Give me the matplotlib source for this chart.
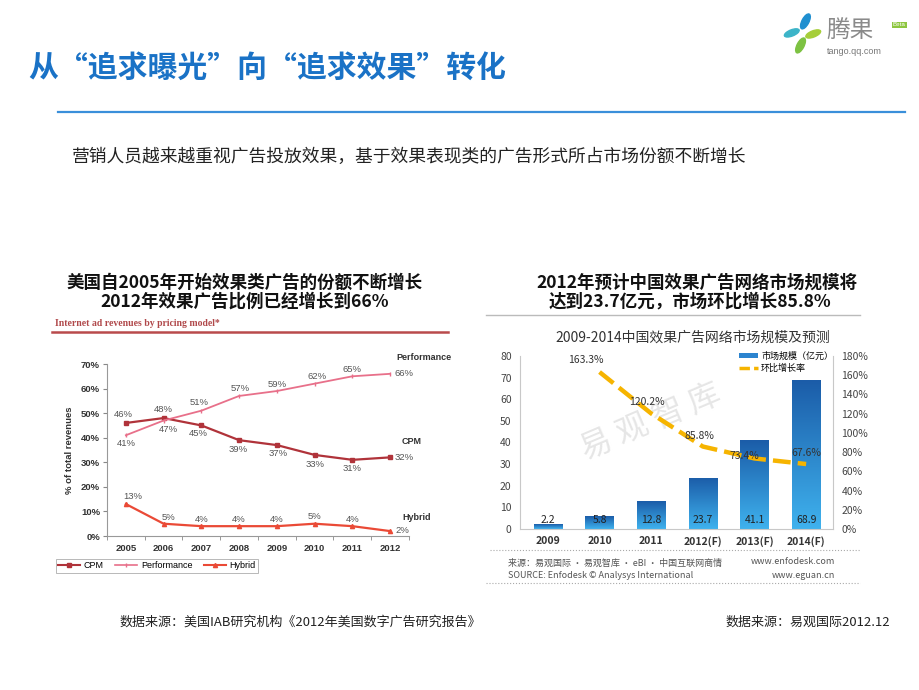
import matplotlib
matplotlib.use("Agg")
import matplotlib.pyplot as plt
import numpy as np
from matplotlib.lines import Line2D
from matplotlib.patches import Patch, Ellipse
from matplotlib.colors import LinearSegmentedColormap

plt.rcParams['font.family'] = ['Noto Sans CJK SC', 'DejaVu Sans']

# --- left chart: IAB internet ad revenues by pricing model (% of total) ---
years = ['2005', '2006', '2007', '2008', '2009', '2010', '2011', '2012']
cpm = [46, 48, 45, 39, 37, 33, 31, 32]
performance = [41, 47, 51, 57, 59, 62, 65, 66]
hybrid = [13, 5, 4, 4, 4, 5, 4, 2]

# --- right chart: China performance ad network market (100M RMB) ---
cn_years = ['2009', '2010', '2011', '2012(F)', '2013(F)', '2014(F)']
market_size = [2.2, 5.8, 12.8, 23.7, 41.1, 68.9]
growth_rate = [163.3, 120.2, 85.8, 73.4, 67.6]   # 2010 .. 2014(F)

W, H = 920, 690
LATIN = ['Liberation Sans', 'DejaVu Sans']


def fx(x):
    return x / W


def fy(y):
    return 1 - y / H


def box(l, t, r, b):
    return [fx(l), fy(b), (r - l) / W, (b - t) / H]


def hline(x0, x1, y, **kw):
    fig.add_artist(Line2D([fx(x0), fx(x1)], [fy(y), fy(y)], **kw))


fig = plt.figure(figsize=(9.2, 6.9), dpi=100)

# header
fig.text(fx(28), fy(68), '从“追求曝光”向“追求效果”转化', fontsize=21.5,
         weight='bold', color='#1A72C6', va='center')
hline(58, 905, 112, color='#3A8FDA', lw=1.6)

# logo
lax = fig.add_axes(box(783, 12, 822, 58))
lax.set_xlim(-1, 1)
lax.set_ylim(-1.2, 1)
lax.axis('off')
for (cx, cy, w, h, ang, c) in [(0.15, 0.55, 0.35, 0.8, -30, '#1F8FD0'),
                               (-0.55, 0.0, 0.8, 0.3, 20, '#3CB4C8'),
                               (0.55, -0.05, 0.8, 0.3, 20, '#A6CE39'),
                               (-0.1, -0.6, 0.35, 0.8, -30, '#7DC242')]:
    lax.add_patch(Ellipse((cx, cy), w, h, angle=ang, color=c))
fig.text(fx(826), fy(31), '腾果', fontsize=17, color='#8A8A8A', va='center')
fig.text(fx(827), fy(52), 'tango.qq.com', fontsize=6.5, color='#777777',
         va='center', family=LATIN)
fig.text(fx(893), fy(25), 'Beta', fontsize=4.5, color='white', va='center',
         family=LATIN, bbox=dict(boxstyle='square,pad=0.15', fc='#8DC63F', ec='none'))

fig.text(fx(72), fy(157), '营销人员越来越重视广告投放效果，基于效果表现类的广告形式所占市场份额不断增长',
         fontsize=12.8, color='#222222', va='center')

# chart headings
heading = dict(fontsize=12.6, weight='bold', color='#111111', ha='center', va='center')
fig.text(fx(245), fy(283), '美国自2005年开始效果类广告的份额不断增长', **heading)
fig.text(fx(245), fy(302), '2012年效果广告比例已经增长到66%', **heading)
fig.text(fx(697), fy(283), '2012年预计中国效果广告网络市场规模将', **heading)
fig.text(fx(690), fy(302), '达到23.7亿元，市场环比增长85.8%', **heading)

# ---------------- left chart ----------------
fig.text(fx(55), fy(323), 'Internet ad revenues by pricing model*', fontsize=7,
         weight='bold', color='#B0484A', va='center',
         family=['Liberation Serif', 'DejaVu Serif'])
hline(52, 448, 332, color='#B94A4C', lw=1.8)

ax1 = fig.add_axes(box(107, 364, 409, 536))
x = np.arange(len(years))
c_cpm, c_perf, c_hyb = '#B0333A', '#E8708A', '#EA4A36'
ax1.plot(x, cpm, color=c_cpm, lw=1.6, marker='s', ms=3.5)
ax1.plot(x, performance, color=c_perf, lw=1.3, marker='|', ms=3)
ax1.plot(x, hybrid, color=c_hyb, lw=1.6, marker='^', ms=3)
ax1.set_xlim(-0.5, len(years) - 0.5)
ax1.set_ylim(0, 70)
ax1.set_yticks(range(0, 71, 10))
ax1.set_yticklabels([f'{v}%' for v in range(0, 71, 10)], family=LATIN,
                    fontsize=6.8, weight='bold', color='#333333')
ax1.set_xticks(x)
ax1.set_xticklabels(years, family=LATIN, fontsize=6.8, weight='bold', color='#333333')
ax1.set_xticks(np.arange(-0.5, len(years)), minor=True)
ax1.tick_params(axis='x', which='major', length=0, pad=6)
ax1.tick_params(axis='x', which='minor', length=3, color='#888888')
ax1.tick_params(axis='y', length=3, color='#888888', pad=2)
for s in ['top', 'right']:
    ax1.spines[s].set_visible(False)
for s in ['left', 'bottom']:
    ax1.spines[s].set_color('#999999')
    ax1.spines[s].set_linewidth(0.8)
ax1.set_ylabel('% of total revenues', family=LATIN, fontsize=6.8, weight='bold',
               color='#333333', labelpad=5)

cpm_off = [(-3, 8), (0, 9), (-3, -8), (-1, -9), (1, -8), (0, -10), (0, -9), (14, 0)]
perf_off = [(0, -8), (5, -9), (-2, 8), (1, 7), (0, 7), (2, 7), (0, 7), (14, 0)]
hyb_off = [(7, 8), (5, 6), (0, 7), (0, 7), (0, 7), (0, 7), (0, 7), (12, 1)]
for series, offs in [(cpm, cpm_off), (performance, perf_off), (hybrid, hyb_off)]:
    for i, v in enumerate(series):
        ax1.annotate(f'{v}%', (x[i], v), xytext=offs[i], textcoords='offset pixels',
                     ha='center', va='center', fontsize=6.8, color='#555555',
                     family=LATIN, annotation_clip=False)

for label, xx, yy in [('Performance', 396, 358), ('CPM', 402, 442), ('Hybrid', 402, 517)]:
    fig.text(fx(xx), fy(yy), label, fontsize=6.5, weight='bold', color='#333333',
             va='center', family=LATIN)

handles = [Line2D([], [], color=c_cpm, lw=1.5, marker='s', ms=3),
           Line2D([], [], color=c_perf, lw=1.2, marker='|', ms=3),
           Line2D([], [], color=c_hyb, lw=1.5, marker='^', ms=3)]
leg = fig.legend(handles, ['CPM', 'Performance', 'Hybrid'], loc='center',
                 bbox_to_anchor=(fx(157), fy(566)), ncol=3,
                 frameon=True, fancybox=False, edgecolor='#999999',
                 handlelength=2.4, columnspacing=1.3, handletextpad=0.4,
                 borderpad=0.3, prop={'family': LATIN, 'size': 6.5})
leg.get_frame().set_linewidth(0.6)

# ---------------- right chart ----------------
hline(486, 860, 315, color='#BBBBBB', lw=1.0)
fig.text(fx(693), fy(338), '2009-2014中国效果广告网络市场规模及预测', fontsize=10,
         color='#333333', ha='center', va='center')

ax2 = fig.add_axes(box(520, 356, 833, 529))
xb = np.arange(len(cn_years))
bars = ax2.bar(xb, market_size, width=0.55, color='#2C84CF', zorder=2)
blue_cmap = LinearSegmentedColormap.from_list('bar', ['#3FB2EE', '#1B5CA8'])
grad = np.linspace(0, 1, 256).reshape(-1, 1)
for b in bars:
    x0, w, h = b.get_x(), b.get_width(), b.get_height()
    im = ax2.imshow(grad, extent=[x0, x0 + w, 0, h], aspect='auto', origin='lower',
                    cmap=blue_cmap, zorder=2.1)
    im.set_clip_path(b)
ax2.set_xlim(-0.54, len(cn_years) - 0.48)
ax2.set_ylim(0, 80)
ax2.set_yticks(range(0, 81, 10))
ax2.tick_params(axis='y', length=0, labelsize=7.5, labelcolor='#444444', pad=6)
ax2.set_xticks(xb)
ax2.set_xticklabels(cn_years, fontsize=7.5, weight='bold', color='#333333')
ax2.tick_params(axis='x', length=0, pad=5)
ax2.spines['top'].set_visible(False)
for s in ['left', 'right', 'bottom']:
    ax2.spines[s].set_color('#C8C8C8')
    ax2.spines[s].set_linewidth(0.8)

for i, v in enumerate(market_size):
    ax2.text(xb[i], 4.3, f'{v}', ha='center', va='center', fontsize=7.5,
             color='#222222', zorder=4)

ax2.text(2.0, 49, '易 观 智 库', rotation=23, fontsize=23, color='#E6E6E6',
         ha='center', va='center', zorder=0.5)

ax3 = ax2.twinx()
xg = xb[1:]
ax3.plot(xg, growth_rate, color='#F6B400', lw=3.2, dashes=(4, 1.6), zorder=5)
ax3.set_ylim(0, 180)
ax3.set_yticks(range(0, 181, 20))
ax3.set_yticklabels([f'{v}%' for v in range(0, 181, 20)])
ax3.tick_params(axis='y', length=0, labelsize=7.5, labelcolor='#444444', pad=6)
for s in ['top', 'left', 'bottom', 'right']:
    ax3.spines[s].set_visible(False)

g_off = [(-14, 12), (-4, 11), (-3, 11), (-10, 2), (0, 11)]
for i, v in enumerate(growth_rate):
    ax3.annotate(f'{v}%', (xg[i], v), xytext=g_off[i], textcoords='offset pixels',
                 ha='center', va='center', fontsize=7.5, color='#333333', zorder=6)

leg_handles = [Patch(facecolor='#2C84CF', edgecolor='none'),
               Line2D([], [], color='#F6B400', lw=2.5, dashes=(3, 1.2))]
ax3.legend(leg_handles, ['市场规模（亿元）', '环比增长率'], loc='upper left',
           bbox_to_anchor=(fx(734), fy(347)), bbox_transform=fig.transFigure,
           frameon=False, fontsize=6.5, handlelength=2.2, handleheight=0.6,
           labelspacing=0.3, borderpad=0, handletextpad=0.3)

hline(490, 860, 550, color='#AAAAAA', lw=0.8, ls=':')
fig.text(fx(508), fy(563), '来源：易观国际 · 易观智库 · eBI · 中国互联网商情', fontsize=6.5,
         color='#555555', va='center')
fig.text(fx(508), fy(576), 'SOURCE: Enfodesk © Analysys International', fontsize=6.5,
         color='#555555', va='center')
fig.text(fx(835), fy(562), 'www.enfodesk.com', fontsize=6.5, color='#555555',
         va='center', ha='right')
fig.text(fx(835), fy(575), 'www.eguan.cn', fontsize=6.5, color='#555555',
         va='center', ha='right')
hline(486, 860, 583, color='#AAAAAA', lw=0.8, ls=':')

# footnotes
fig.text(fx(120), fy(622), '数据来源：美国IAB研究机构《2012年美国数字广告研究报告》',
         fontsize=9.4, color='#222222', va='center')
fig.text(fx(890), fy(622), '数据来源：易观国际2012.12', fontsize=9.4, color='#222222',
         va='center', ha='right')

fig.savefig('out.png', dpi=100)
